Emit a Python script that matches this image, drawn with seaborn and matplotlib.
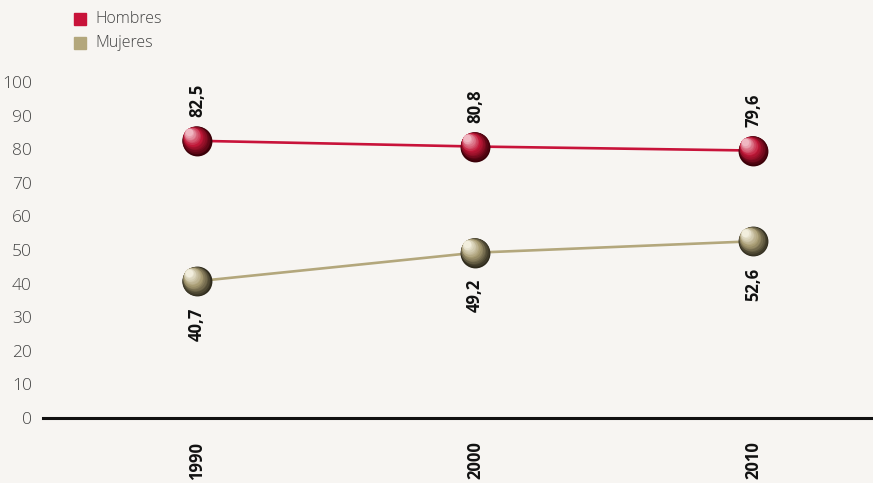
import matplotlib
matplotlib.use("Agg")
import matplotlib.pyplot as plt
import matplotlib.transforms as mtransforms
from matplotlib.patches import Rectangle
from matplotlib.colors import to_rgb
import numpy as np
import pandas as pd
import seaborn as sns

years = ["1990", "2000", "2010"]
hombres = [82.5, 80.8, 79.6]
mujeres = [40.7, 49.2, 52.6]
hombres_labels = ["82,5", "80,8", "79,6"]
mujeres_labels = ["40,7", "49,2", "52,6"]
yticks = [0, 10, 20, 30, 40, 50, 60, 70, 80, 90, 100]
series_names = ["Hombres", "Mujeres"]

BG = "#F7F5F2"
RED = "#C8133A"
TAN = "#B3A77C"

sns.set_theme(style="white")
plt.rcParams["font.family"] = ["Open Sans", "DejaVu Sans"]

df = pd.DataFrame({
    "year": years * 2,
    "value": hombres + mujeres,
    "serie": [series_names[0]] * 3 + [series_names[1]] * 3,
})

fig = plt.figure(figsize=(8.73, 4.83), dpi=100, facecolor=BG)
ax = fig.add_axes([43 / 873, 65 / 483, 1 - 43 / 873, (418 - 82) / 483])
ax.set_facecolor(BG)

sns.lineplot(data=df, x="year", y="value", hue="serie",
             palette={series_names[0]: RED, series_names[1]: TAN},
             linewidth=1.9, legend=False, ax=ax, sort=False)

def sphere(xs, ys, light, base, dark):
    light = np.array(to_rgb(light)); base = np.array(to_rgb(base)); dark = np.array(to_rgb(dark))
    D = 21.5
    ax.scatter(xs, ys, s=D ** 2, color=dark, zorder=5, clip_on=False, linewidths=0)
    n = 14
    for i in range(1, n + 1):
        t = i / n
        scale = 1 - 0.75 * t
        if t < 0.5:
            c = dark + (base - dark) * (t / 0.5)
        else:
            c = base + (light - base) * ((t - 0.5) / 0.5)
        off = (1 - scale) * D / 2 * 0.75
        tr = mtransforms.offset_copy(ax.transData, fig=fig, x=-off, y=off, units="points")
        ax.scatter(xs, ys, s=(D * scale) ** 2, color=c, zorder=5 + i * 0.01,
                   clip_on=False, linewidths=0, transform=tr)

sphere(years, hombres, "#F0B7C2", "#C01838", "#3A0008")
sphere(years, mujeres, "#F2EEDD", "#A89C74", "#2E2A1C")

for x, v, lab in zip(years, hombres, hombres_labels):
    ax.annotate(lab, (x, v), xytext=(0, 17), textcoords="offset points",
                rotation=90, ha="center", va="bottom", fontsize=12,
                fontweight="bold", color="#111111", annotation_clip=False)
for x, v, lab in zip(years, mujeres, mujeres_labels):
    ax.annotate(lab, (x, v), xytext=(0, -19), textcoords="offset points",
                rotation=90, ha="center", va="top", fontsize=12,
                fontweight="bold", color="#111111", annotation_clip=False)

ax.set_ylim(0, 100)
ax.set_xlim(-0.554, 2.43)
ax.set_yticks(yticks)
ax.set_yticklabels([str(t) for t in yticks], fontsize=12.5, color="#444444", fontweight="light")
ax.tick_params(axis="y", length=0, pad=8)
ax.tick_params(axis="x", length=0, pad=17, labelsize=12)
for lab in ax.get_xticklabels():
    lab.set_rotation(90)
    lab.set_fontweight("bold")
    lab.set_color("#111111")
    lab.set_va("top")
    lab.set_ha("center")
ax.set_xlabel("")
ax.set_ylabel("")
for s in ["top", "right", "left"]:
    ax.spines[s].set_visible(False)
ax.spines["bottom"].set_color("#111111")
ax.spines["bottom"].set_linewidth(2.2)

# legend
for i, (name, col) in enumerate(zip(series_names, [RED, TAN])):
    ycen = 19 + i * 24
    fig.patches.append(Rectangle((74 / 873, 1 - (ycen + 6) / 483), 12 / 873, 12 / 483,
                                 transform=fig.transFigure, color=col, figure=fig))
    fig.text(95 / 873, 1 - ycen / 483, name, fontsize=11.5, color="#444444",
             va="center", ha="left", fontweight="light")

fig.savefig("out.png", dpi=100, facecolor=BG)
